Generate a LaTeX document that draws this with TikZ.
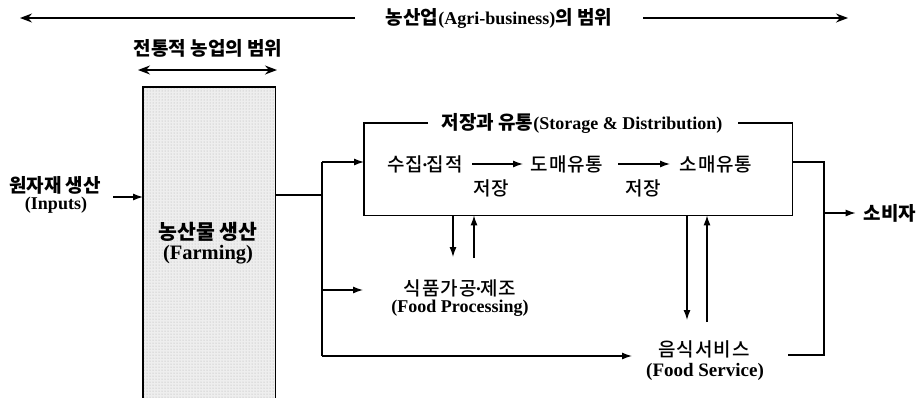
\documentclass[tikz,border=0pt]{standalone}
\usepackage{fontspec}
\setmainfont{Liberation Serif}
\newfontfamily\kr{Noto Sans CJK KR}
\newfontfamily\krm{Noto Sans CJK KR Medium}[LetterSpace=5]
\usetikzlibrary{arrows.meta,patterns}
\newcommand\en[1]{{\rmfamily\bfseries\fontsize{18}{20}\selectfont #1}}
\newcommand\mdt{\kern-1.5pt{\rmfamily\bfseries ·}\kern-1.5pt}
\tikzset{
  kb/.style={font=\kr\bfseries\fontsize{19}{21}\selectfont, inner sep=0pt},
  kbig/.style={font=\kr\bfseries\fontsize{20.5}{22}\selectfont, inner sep=0pt},
  kn/.style={font=\krm\fontsize{19}{21}\selectfont, inner sep=0pt},
  enb/.style={font=\rmfamily\bfseries\fontsize{18}{20}\selectfont, inner sep=0pt},
  enbig/.style={font=\rmfamily\bfseries\fontsize{20.5}{22}\selectfont, inner sep=0pt},
  conn/.style={line width=1.2pt},
  arr/.style={line width=1.2pt, -{Latex[length=10pt,width=7pt]}},
  barr/.style={line width=1.3pt, -{Stealth[length=12pt,width=9pt]}},
  dbarr/.style={line width=1.3pt, {Stealth[length=12pt,width=9pt]}-{Stealth[length=12pt,width=9pt]}}
}
\begin{document}
\begin{tikzpicture}[x=1pt,y=-1pt]
\useasboundingbox (0,0) rectangle (920,397);
\fill[white] (0,0) rectangle (920,397);

% top range
\node[kb] (agri) at (499,18) {농산업\en{(Agri-business)}의 범위};
\coordinate (agL) at (355,18);
\coordinate (agR) at (643,18);
\coordinate (tipL) at (20,18);
\coordinate (tipR) at (848,18);
\draw[barr] (agL) -- (tipL);
\draw[barr] (agR) -- (tipR);

% traditional range
\node[kb] (trad) at (208,48) {전통적 농업의 범위};
\coordinate (trA) at (138,70);
\coordinate (trB) at (277,70);
\draw[dbarr] (trA) -- (trB);

% farming box
\node[fill=gray!13, minimum width=132pt, minimum height=330pt, anchor=north west, inner sep=0pt] (farm) at (143,87) {};
\fill[pattern=dots, pattern color=gray!65] (farm.south west) rectangle (farm.north east);
\draw[conn] (farm.south west) -- (farm.north west) -- (farm.north east) -- (farm.south east);
\node[kbig] (farmk) at (208,232) {농산물 생산};
\node[enbig] (farme) at (208,255) {(Farming)};

% inputs
\node[kb] (inpk) at (55,185) {원자재 생산};
\node[enb] (inpe) at (56,205) {(Inputs)};
\coordinate (inA) at (113,197);
\draw[arr] (inA) -- (inA -| farm.west);

% junction
\coordinate (j) at (322,195);
\coordinate (jt) at (322,162);
\coordinate (jf) at (322,290);
\coordinate (jb) at (322,356);
\draw[conn] (farm.east |- j) -- (j);
\draw[conn] (jt) -- (jb);

% storage & distribution box
\node[minimum width=428pt, minimum height=92pt, anchor=north west, inner sep=0pt] (sd) at (364,123) {};
\node[kb] (sdt) at (582,123) {저장과 유통\en{(Storage \& Distribution)}};
\coordinate (sdL) at (428,123);
\coordinate (sdR) at (738,123);
\draw[conn] (sdL) -- (sd.north west) -- (sd.south west) -- (sd.south east) -- (sd.north east) -- (sdR);
\draw[arr] (jt) -- (jt -| sd.west);

\node[kn] (sj) at (425,164) {수집\mdt 집적};
\node[kn] (dm) at (567,164) {도매유통};
\node[kn] (sm) at (716,164) {소매유통};
\node[kn] (st1) at (491,188) {저장};
\node[kn] (st2) at (643,188) {저장};
\coordinate (a1s) at (472,164);
\coordinate (a1e) at (523,164);
\coordinate (a2s) at (618,164);
\coordinate (a2e) at (670,164);
\draw[arr] (a1s) -- (a1e);
\draw[arr] (a2s) -- (a2e);

% food processing
\node[kn] (fpk) at (460,288) {식품가공\mdt 제조};
\node[enb] (fpe) at (460,308) {(Food Processing)};
\coordinate (fpd) at (453,257);
\coordinate (fpu) at (474,258);
\draw[arr] (fpd |- sd.south) -- (fpd);
\draw[arr] (fpu) -- (fpu |- sd.south);
\coordinate (fpin) at (363,290);
\draw[arr] (jf) -- (fpin);

% food service
\node[kn] (fsk) at (704,349) {음식서비스};
\node[enb, font=\rmfamily\bfseries\fontsize{19}{21}\selectfont] (fse) at (705,372) {(Food Service)};
\coordinate (fsd) at (687,320);
\coordinate (fsu) at (707,322);
\draw[arr] (fsd |- sd.south) -- (fsd);
\draw[arr] (fsu) -- (fsu |- sd.south);
\coordinate (fsin) at (632,356);
\draw[arr] (jb) -- (fsin);

% consumer
\coordinate (k) at (824,162);
\coordinate (kb) at (824,355);
\coordinate (ks) at (824,213);
\coordinate (fsout) at (788,355);
\node[kb] (cons) at (890,213) {소비자};
\draw[conn] (sd.east |- k) -- (k) -- (kb) -- (fsout);
\draw[arr] (ks) -- ([xshift=-8pt]cons.west);
\end{tikzpicture}
\end{document}
